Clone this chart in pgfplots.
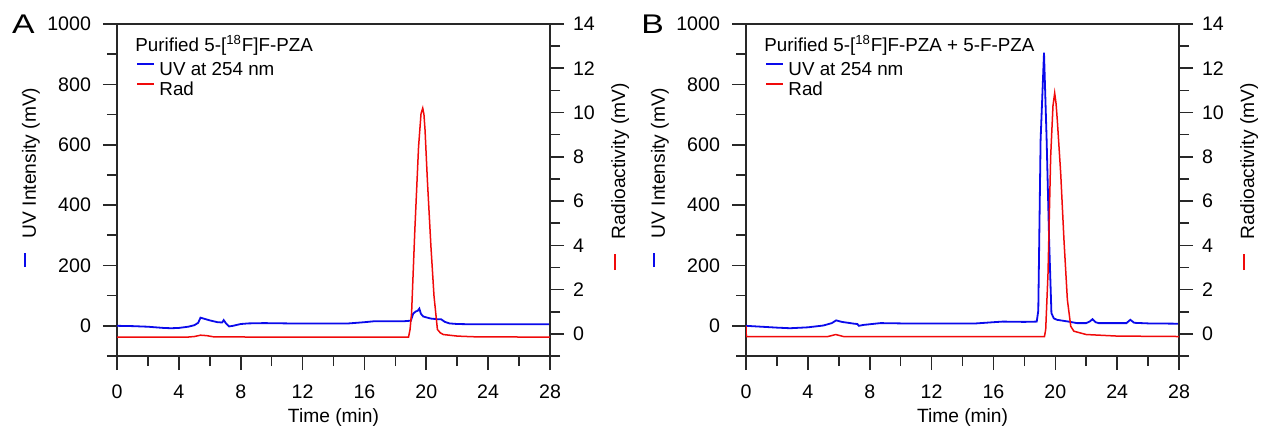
\documentclass[border=0pt]{standalone}
\usepackage{pgfplots}
\usepackage{pgfplotstable}
\pgfplotsset{compat=1.18}
\usepackage{fontspec}
\setmainfont{Liberation Sans}
\definecolor{axcol}{RGB}{40,40,40}
\definecolor{uvblue}{RGB}{10,10,235}
\definecolor{radred}{RGB}{240,10,10}

\pgfplotstableread{
t v
0 0
1 -1
2 -3
3 -7
3.5 -8
4 -7
4.6 -3
5.0 2
5.25 10
5.4 27
5.6 24
6.0 18
6.5 12
6.8 11
6.9 19
7.05 8
7.25 -2
7.5 0
8.0 6
8.5 8
9.5 9
11 8
13 8
15 8
16 12
16.6 15
17.5 15
18.5 15
19.0 17
19.15 40
19.3 47
19.45 50
19.55 57
19.65 40
19.8 31
20.0 28
20.3 24
20.7 22
20.95 22
21.2 13
21.5 8
22 6
23 5
28 5
}\uvA

\pgfplotstableread{
t r
0 -0.15
4.5 -0.15
5.0 -0.12
5.4 -0.06
5.8 -0.08
6.3 -0.14
18.85 -0.15
18.95 0.2
19.05 0.95
19.26 4.7
19.5 8.45
19.66 9.95
19.77 10.2
19.85 9.9
19.92 9.2
20.07 6.95
20.3 3.95
20.5 1.7
20.72 0.2
20.9 0.05
21.1 -0.03
22 -0.1
23 -0.13
28 -0.15
}\radA

\pgfplotstableread{
t v
0 0
1 -3
2 -6
2.85 -8
4 -5
5.0 1
5.55 9
5.83 18
6.2 13
7.0 7
7.2 6
7.3 0
7.6 3
8.7 9
10 8
14.9 8
16.0 12
16.6 14
18.0 13
18.8 14
18.9 50
19.05 616
19.27 905
19.44 616
19.6 285
19.75 42
19.9 25
20.1 20
20.85 14
21.4 9
22.0 9
22.25 15
22.4 22
22.6 12
22.8 9
24.6 9
24.85 20
25.1 10
26 8
28 7
}\uvB

\pgfplotstableread{
t r
0 0.35
0.02 -0.12
5.3 -0.12
5.8 -0.03
6.3 -0.12
19.3 -0.12
19.38 0.2
19.53 2.75
19.7 8.0
19.85 10.3
19.96 10.88
20.05 10.4
20.13 9.65
20.35 7.25
20.56 4.25
20.78 1.55
21.0 0.34
21.2 0.12
22 -0.03
24 -0.1
28 -0.12
}\radB

\pgfplotsset{
  base/.style={scale only axis, width=216.5pt, height=166pt, xmin=0, xmax=28,
    tick align=outside, major tick length=7pt, minor tick length=5pt,
    axis line style={line width=0.8pt, color=axcol},
    tick style={line width=0.8pt, color=axcol},
    tick label style={font=\fontsize{9.8}{11}\selectfont, text=black},
    label style={font=\fontsize{9.6}{11}\selectfont},
    /pgf/number format/assume math mode=true,
    /pgf/number format/1000 sep={}},
  leftax/.style={base, ymin=-100, ymax=1000,
    xtick={0,4,...,28}, minor xtick={2,6,...,26},
    ytick={0,200,...,1000}, minor ytick={-100,100,...,900},
    xtick pos=bottom, ytick pos=left,
    xticklabel style={yshift=-4pt},
    yticklabel style={xshift=-2.5pt},
    xlabel={Time (min)},
    ylabel={\textcolor{uvblue}{\rule[0.5em]{7pt}{1pt}}\hspace{7.5pt}UV Intensity (mV)},
    xlabel style={at={(axis description cs:0.5,-0.186)}, anchor=center},
    ylabel style={at={(axis description cs:-0.199,0.538)}, anchor=center},
    legend cell align=left,
    legend image code/.code={\draw[#1, line width=1pt] (0pt,0.35em) -- (8.5pt,0.35em);},
    legend style={at={(axis description cs:0.044,0.89)}, anchor=north west, draw=none, fill=none,
      inner sep=0pt, font=\fontsize{9.4}{10}\selectfont, row sep=0pt, column sep=1.5pt,
      nodes={inner sep=0.5pt, text height=7pt, text depth=2pt}}},
  rightax/.style={base, ymin=-1, ymax=14, axis y line*=right, axis x line=none,
    ytick={0,2,...,14}, minor ytick={-1,1,...,13},
    yticklabel style={xshift=1pt},
    ylabel={\textcolor{radred}{\rule[0.5em]{8pt}{1pt}}\hspace{7.5pt}Radioactivity (mV)},
    ylabel style={at={(axis description cs:1.162,0.54)}, anchor=center}}
}

\begin{document}
\begin{tikzpicture}
\useasboundingbox (0,0) rectangle (636pt,216.5pt);
% Panel A
\begin{axis}[leftax, at={(58.5pt,38.5pt)}, anchor=south west]
\addplot[uvblue, line width=0.9pt] table[x=t, y=v] {\uvA};
\addlegendentry{UV at 254 nm}
\addlegendimage{radred}
\addlegendentry{Rad}
\end{axis}
\begin{axis}[rightax, at={(58.5pt,38.5pt)}, anchor=south west]
\addplot[radred, line width=0.75pt] table[x=t, y=r] {\radA};
\end{axis}
\node[anchor=base west, inner sep=0pt] at (67.5pt,190.5pt) {\fontsize{9.4}{10}\selectfont Purified 5-[\textsuperscript{18}F]F-PZA};
\node[anchor=base west, inner sep=0pt] at (5.8pt,199.5pt) {\fontsize{13.5}{15}\selectfont\scalebox{1.25}[1]{A}};
% Panel B
\begin{axis}[leftax, at={(373pt,38.5pt)}, anchor=south west]
\addplot[uvblue, line width=0.9pt] table[x=t, y=v] {\uvB};
\addlegendentry{UV at 254 nm}
\addlegendimage{radred}
\addlegendentry{Rad}
\end{axis}
\begin{axis}[rightax, at={(373pt,38.5pt)}, anchor=south west]
\addplot[radred, line width=0.75pt] table[x=t, y=r] {\radB};
\end{axis}
\node[anchor=base west, inner sep=0pt] at (382pt,190.5pt) {\fontsize{9.4}{10}\selectfont Purified 5-[\textsuperscript{18}F]F-PZA + 5-F-PZA};
\node[anchor=base west, inner sep=0pt] at (320.5pt,199.5pt) {\fontsize{13.5}{15}\selectfont\scalebox{1.25}[1]{B}};
\end{tikzpicture}
\end{document}
